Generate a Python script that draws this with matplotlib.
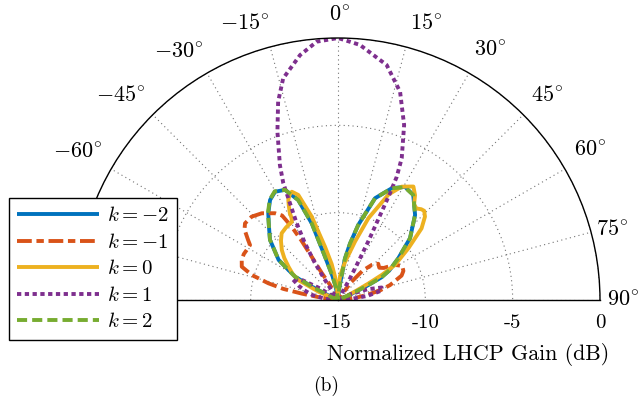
import numpy as np
import matplotlib
matplotlib.use("Agg")
import matplotlib.pyplot as plt
from matplotlib.transforms import offset_copy

plt.rcParams['mathtext.fontset'] = 'cm'
plt.rcParams['font.family'] = ['DejaVu Serif']

# ---------------- data (angle in degrees, normalized LHCP gain in dB) ----------------
theta_km2 = [-90, -70, -66, -63, -61.5, -56, -48.5, -43, -38.8, -34.2, -30.2, -25.7, -21.7,
             -18.9, -16.7, -13, -10, -7, -3, 0, 3, 6, 9.5, 12, 15.1, 20, 25.7, 30.6, 35.6,
             42.2, 49.4, 55.3, 60, 62.5, 64, 66, 70, 90]
gain_km2 = [-15, -15, -14.6, -13.3, -12.2, -10.9, -9.8, -9.2, -8.63, -8.08, -7.83, -8.0, -8.84,
            -10.36, -12.4, -13.6, -14.2, -14.8, -15, -15, -15, -14.3, -12.6, -11.7, -10.55, -8.8,
            -7.9, -7.47, -7.6, -8.43, -9.57, -10.8, -11.6, -12.2, -13.2, -14.3, -15, -15]

theta_km1 = [-90, -86, -82, -80, -78.5, -76.5, -73.8, -70.9, -67.4, -64, -61.3, -58, -56.2, -53,
             -50.5, -46, -41.3, -36, -33.5, -32.3, -31.6, -31.3, -31.0, -28, -24, -20, 0, 30,
             36, 40, 44, 48, 52, 55, 58, 62, 66, 69, 74, 77, 80, 84, 90]
gain_km1 = [-15, -15, -14.0, -12.9, -11.8, -10.9, -9.86, -9.17, -9.03, -9.0, -9.04, -9.06, -8.8,
            -8.3, -8.1, -8.13, -8.39, -8.86, -9.2, -10.04, -11.0, -12.1, -13.2, -14.0, -14.6,
            -15, -15, -15, -13.8, -12.8, -12.2, -11.9, -12.0, -11.8, -11.2, -10.84, -10.9,
            -11.1, -11.9, -12.5, -13.3, -14.1, -15]

theta_k0 = [-90, -72, -67, -63.3, -60, -56.2, -52, -48.4, -44, -40.2, -36, -33.5, -30.5, -29.5,
            -29, -27.5, -26.4, -24.5, -23.1, -20.7, -17.5, -13.7, -10, -7.3, -4, -1, 0, 2, 5,
            10.4, 16.3, 20.4, 25.6, 29.3, 33.6, 36.3, 38.5, 40.6, 42.5, 44, 46.2, 49.4, 53.7,
            58.4, 60.2, 61.5, 63, 66, 72, 90]
gain_k0 = [-15, -15, -13.8, -12.45, -12.0, -11.6, -11.1, -10.7, -10.3, -10.0, -9.9, -9.85, -9.8,
           -9.6, -9.3, -8.9, -8.6, -8.35, -8.26, -8.57, -9.99, -11.86, -12.9, -13.65, -14.5, -15,
           -15, -14.3, -13.6, -12.8, -11.5, -10.0, -8.3, -7.56, -7.2, -7.55, -8.0, -8.1, -7.95,
           -7.9, -8.1, -8.7, -10.0, -11.17, -12.1, -13.0, -13.8, -14.5, -15, -15]

theta_k1 = [-90, -84, -79, -74, -70, -65, -61, -57, -53, -40, -35.5, -33, -32, -30.2, -28.3,
            -26.4, -25.1, -23.3, -19.8, -16.8, -13.9, -8.8, -4.7, 0, 4.9, 11.7, 16.6, 20.7, 24.2,
            25.5, 26.0, 26.5, 27.3, 28, 29, 31, 60, 65, 70, 74, 78, 82, 86, 90]
gain_k1 = [-15, -14.2, -13.5, -13.0, -12.6, -12.1, -12.6, -13.8, -15, -15, -14.8, -13.6, -12.5,
           -11.24, -10.0, -8.82, -7.62, -6.59, -4.76, -3.14, -1.93, -0.81, -0.16, 0, -0.34,
           -1.26, -2.56, -4.29, -6.1, -7.2, -8.3, -9.8, -11.2, -12.5, -13.6, -15, -15, -14.2,
           -13.2, -12.4, -12.5, -13.3, -14.3, -15]

theta_k2 = [-90, -70, -66, -63, -61.5, -56, -48.5, -43, -38.8, -34.2, -30.2, -25.7, -21.7,
            -18.9, -16.7, -13, -10, -7, -3, 0, 3, 6, 9.5, 12, 15.1, 20, 25.7, 30.6, 35.6,
            42.2, 49.4, 55.3, 60, 62.5, 64, 66, 70, 90]
gain_k2 = [-15, -15, -14.6, -13.3, -12.2, -10.9, -9.8, -9.2, -8.6, -8.05, -7.8, -8.0, -8.84,
           -10.36, -12.4, -13.6, -14.2, -14.8, -15, -15, -15, -14.3, -12.6, -11.7, -10.55, -8.8,
           -7.9, -7.5, -7.6, -8.43, -9.57, -10.8, -11.6, -12.2, -13.2, -14.3, -15, -15]

labels = [r'$k=-2$', r'$k=-1$', r'$k=0$', r'$k=1$', r'$k=2$']
r_ticks = [-15, -10, -5, 0]
r_tick_labels = ['-15', '-10', '-5', '0']
theta_ticks = list(range(-90, 91, 15))
theta_tick_labels = [r'$%d^{\circ}$' % t for t in theta_ticks]

# layout of the angle labels: distance (px) from the pole and direction (deg) of their centres
label_dist = [285, 297, 299, 298.5, 295, 292.5, 285, 290.6, 292.6, 292.8, 293, 283, 285]
label_dir = [-90, -75.5, -60.4, -46.7, -32.8, -18.7, 0.2, 17.6, 31.3, 45.6, 59.2, 75.5, 90]

# ---------------- figure ----------------
W, H = 639, 400
fig = plt.figure(figsize=(W / 100, H / 100), dpi=100)
cx, cy, R = 338, 300, 262
# polar wedge bbox is padded to a square: half-disc occupies middle half of a 2R square box
box_top = cy - R - R / 2
ax = fig.add_axes([(cx - R) / W, (H - (box_top + 2 * R)) / H, 2 * R / W, 2 * R / H],
                  projection='polar')
ax.set_theta_zero_location('N')
ax.set_theta_direction(-1)
ax.set_thetamin(-90)
ax.set_thetamax(90)
ax.set_rlim(-15, 0)

lw = 2.8
series = [
    (theta_km2, gain_km2, '#0072BD', dict(linestyle='-')),
    (theta_km1, gain_km1, '#D95319', dict(dashes=(3.8, 1.2, 1.9, 1.2))),
    (theta_k0, gain_k0, '#EDB120', dict(linestyle='-')),
    (theta_k1, gain_k1, '#7E2F8E', dict(dashes=(1.1, 0.9))),
    (theta_k2, gain_k2, '#77AC30', dict(dashes=(2.6, 1.3))),
]
handles = []
for (th, g, col, st), lab in zip(series, labels):
    h, = ax.plot(np.deg2rad(th), g, color=col, lw=lw, label=lab,
                 solid_capstyle='butt', dash_capstyle='butt', **st)
    handles.append(h)

# grid
ax.set_thetagrids(theta_ticks, labels=[''] * len(theta_ticks))
ax.set_rticks(r_ticks)
ax.set_yticklabels([])
ax.grid(True, color='0.45', linestyle=(0, (1, 3)), linewidth=0.8)
ax.tick_params(axis='x', length=0)
ax.tick_params(axis='y', length=0)
for name in ['polar', 'start', 'end']:
    ax.spines[name].set_color('black')
    ax.spines[name].set_linewidth(1.0)
ax.spines['inner'].set_visible(False)

# angle labels outside the arc, offset from the pole (r = -15 dB)
for lab, dist, ang in zip(theta_tick_labels, label_dist, label_dir):
    a = np.deg2rad(ang)
    tr = offset_copy(ax.transData, fig=fig, x=dist * np.sin(a), y=dist * np.cos(a),
                     units='dots')
    ax.text(0, -15, lab, transform=tr, ha='center', va='center', fontsize=16,
            clip_on=False)

# radial labels under the baseline
tr = offset_copy(ax.transData, fig=fig, x=0, y=-23, units='dots')
for rv, rl in zip(r_ticks, r_tick_labels):
    ax.text(np.deg2rad(90), rv, rl, transform=tr, ha='center', va='center',
            fontsize=15, family='cmr10', clip_on=False)

fig.text(468 / W, 1 - 354 / H, 'Normalized LHCP Gain (dB)', ha='center', va='center',
         fontsize=15.8, family='cmr10')
fig.text(326 / W, 1 - 386 / H, '(b)', ha='center', va='center', fontsize=14, family='cmr10')

leg = fig.legend(handles=handles, loc='upper left', bbox_to_anchor=(9 / W, 1 - 198 / H),
                 borderaxespad=0, fontsize=15, handlelength=3.9, handletextpad=0.4,
                 labelspacing=0.36, borderpad=0.4, fancybox=False, framealpha=1,
                 edgecolor='black')
leg.get_frame().set_linewidth(1.0)
leg.set_zorder(10)

fig.savefig('out.png', dpi=100)
